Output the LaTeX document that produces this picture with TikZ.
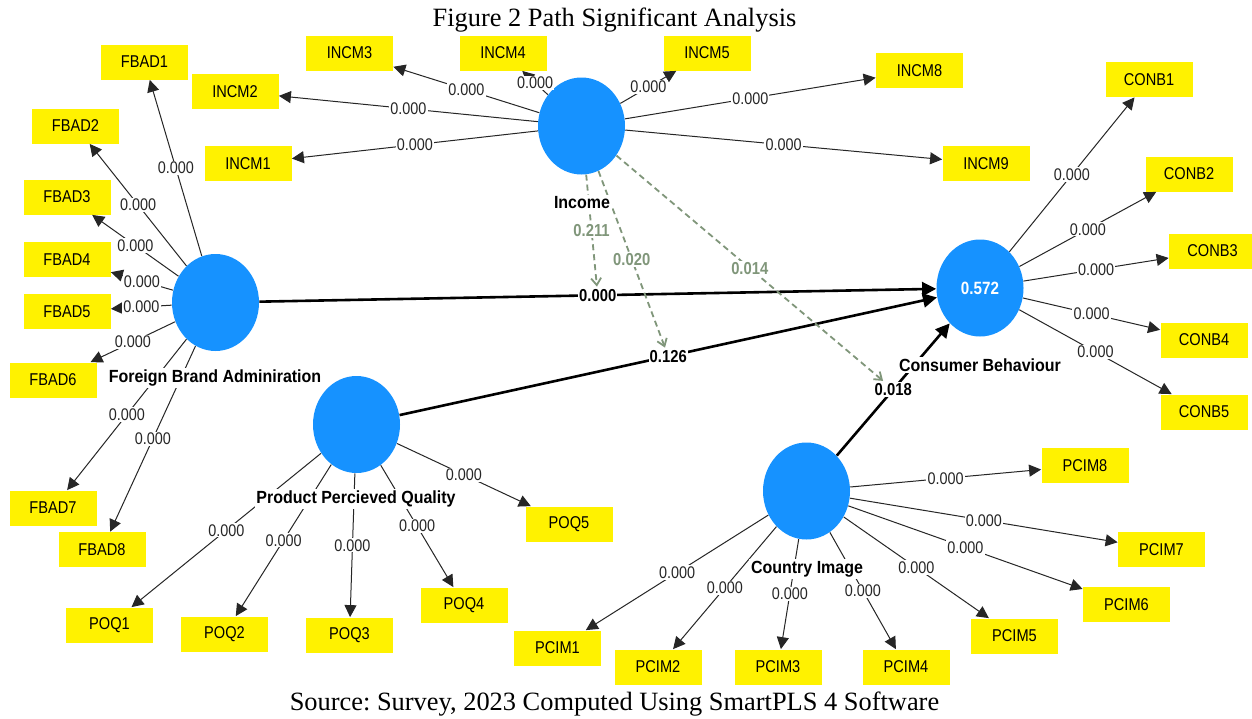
\documentclass[tikz,border=0pt]{standalone}
\usepackage{fontspec}
\usepackage{graphicx}
\setmainfont{Liberation Serif}
\setsansfont{Liberation Sans}
\frenchspacing
\usetikzlibrary{shapes.geometric,arrows.meta}
\definecolor{lvblue}{RGB}{22,146,255}
\definecolor{modgreen}{RGB}{128,150,122}
\newcommand{\ys}[1]{\scalebox{1}[1.17]{#1}}
\newcommand{\yb}[1]{\scalebox{1}[1.1]{#1}}
\begin{document}
\begin{tikzpicture}[x=0.5pt,y=-0.5pt,
 lv/.style={ellipse, fill=lvblue, minimum width=43.5pt, minimum height=48.5pt, inner sep=0pt},
 ind/.style={rectangle, fill=yellow, minimum width=43.5pt, minimum height=17.5pt, inner sep=0pt, font=\sffamily\fontsize{7.3}{8}\selectfont},
 load/.style={-{Triangle[length=6pt,width=6pt]}, line width=0.5pt, draw=black!85},
 wt/.style={fill=white, inner sep=0.6pt, font=\sffamily\fontsize{7.2}{8}\selectfont, text=black!85},
 pth/.style={-{Triangle[length=7pt,width=7pt]}, line width=1.3pt},
 pwt/.style={fill=white, inner sep=0.6pt, font=\sffamily\bfseries\fontsize{7.4}{8}\selectfont},
 mod/.style={draw=modgreen, dash pattern=on 3pt off 2pt, line width=0.9pt, -{Straight Barb[length=3.5pt,width=5pt]}},
 mwt/.style={fill=white, inner sep=0.6pt, font=\sffamily\bfseries\fontsize{7.4}{8}\selectfont, text=modgreen},
 lname/.style={fill=white, inner sep=0.8pt, font=\sffamily\bfseries\fontsize{8}{9}\selectfont}
]
\fill[white] (0,0) rectangle (1252,718);
\useasboundingbox (0,0) rectangle (1252,718);

% title and source
\node[font=\fontsize{13.2}{15}\selectfont] (title) at (614.5,20) {Figure 2 Path Significant Analysis};
\node[font=\fontsize{13.2}{15}\selectfont] (source) at (614.5,704) {Source: Survey, 2023 Computed Using SmartPLS 4 Software};

% latent variables
\node[lv] (fba) at (215.5,302.5) {};
\node[lv] (inc) at (581.5,126) {};
\node[lv, text=white, font=\sffamily\bfseries\fontsize{7.6}{9}\selectfont] (cb) at (980,288) {\ys{0.572}};
\node[lv] (ppq) at (356.5,424.5) {};
\node[lv] (ci) at (806.5,491) {};

% indicators
\node[ind] (fbad1) at (144.5,62) {\ys{FBAD1}};
\node[ind] (fbad2) at (75.5,126) {\ys{FBAD2}};
\node[ind] (fbad3) at (67,197) {\ys{FBAD3}};
\node[ind] (fbad4) at (67,259.5) {\ys{FBAD4}};
\node[ind] (fbad5) at (67,311.5) {\ys{FBAD5}};
\node[ind] (fbad6) at (53,380) {\ys{FBAD6}};
\node[ind] (fbad7) at (53,508) {\ys{FBAD7}};
\node[ind] (fbad8) at (102,549.5) {\ys{FBAD8}};
\node[ind] (poq1) at (109.5,625) {\ys{POQ1}};
\node[ind] (poq2) at (224.5,634) {\ys{POQ2}};
\node[ind] (poq3) at (349.5,635) {\ys{POQ3}};
\node[ind] (poq4) at (464,605) {\ys{POQ4}};
\node[ind] (poq5) at (569,524) {\ys{POQ5}};
\node[ind] (pcim1) at (557.5,648) {\ys{PCIM1}};
\node[ind] (pcim2) at (658,667) {\ys{PCIM2}};
\node[ind] (pcim3) at (778,667) {\ys{PCIM3}};
\node[ind] (pcim4) at (906,667) {\ys{PCIM4}};
\node[ind] (pcim5) at (1014.5,636) {\ys{PCIM5}};
\node[ind] (pcim6) at (1126.5,604.5) {\ys{PCIM6}};
\node[ind] (pcim7) at (1161.5,549.5) {\ys{PCIM7}};
\node[ind] (pcim8) at (1085,465.5) {\ys{PCIM8}};
\node[ind] (conb1) at (1149,79.5) {\ys{CONB1}};
\node[ind] (conb2) at (1189,174) {\ys{CONB2}};
\node[ind] (conb3) at (1212.5,251) {\ys{CONB3}};
\node[ind] (conb4) at (1204,340) {\ys{CONB4}};
\node[ind] (conb5) at (1204,412) {\ys{CONB5}};
\node[ind] (incm1) at (248,163.5) {\ys{INCM1}};
\node[ind] (incm2) at (235,91.5) {\ys{INCM2}};
\node[ind] (incm3) at (349.5,53) {\ys{INCM3}};
\node[ind] (incm4) at (503,53) {\ys{INCM4}};
\node[ind] (incm5) at (707,53) {\ys{INCM5}};
\node[ind] (incm8) at (919.5,70.5) {\ys{INCM8}};
\node[ind] (incm9) at (986,163.5) {\ys{INCM9}};

% loadings
\foreach \t in {fbad1,fbad2,fbad3,fbad4,fbad5,fbad6,fbad7,fbad8}
  \draw[load] (fba) -- node[wt]{\ys{0.000}} (\t);
\foreach \t in {poq1,poq2,poq3,poq4,poq5}
  \draw[load] (ppq) -- node[wt]{\ys{0.000}} (\t);
\foreach \t in {pcim1,pcim2,pcim3,pcim4,pcim5,pcim6,pcim7,pcim8}
  \draw[load] (ci) -- node[wt]{\ys{0.000}} (\t);
\foreach \t in {conb1,conb2,conb3,conb4,conb5}
  \draw[load] (cb) -- node[wt]{\ys{0.000}} (\t);
\foreach \t in {incm1,incm2,incm3,incm4,incm5,incm8,incm9}
  \draw[load] (inc) -- node[wt]{\ys{0.000}} (\t);

% structural paths
\draw[pth] (fba) -- node[pwt] (p1) {\ys{0.000}} (cb);
\draw[pth] (ppq) -- node[pwt] (p2) {\ys{0.126}} (cb);
\draw[pth] (ci) -- node[pwt] (p3) {\ys{0.018}} (cb);

% moderating effects
\draw[mod] (inc) -- node[mwt]{\ys{0.211}} (p1);
\draw[mod] (inc) -- node[mwt]{\ys{0.020}} (p2);
\draw[mod] (inc) -- node[mwt]{\ys{0.014}} (p3);

% latent names
\node[lname] (nfba) at (215,378) {\yb{Foreign Brand Adminiration}};
\node[lname] (ninc) at (582,203) {\yb{Income}};
\node[lname] (ncb) at (980,365) {\yb{Consumer Behaviour}};
\node[lname] (nppq) at (356,499) {\yb{Product Percieved Quality}};
\node[lname] (nci) at (807,569) {\yb{Country Image}};
\end{tikzpicture}
\end{document}
